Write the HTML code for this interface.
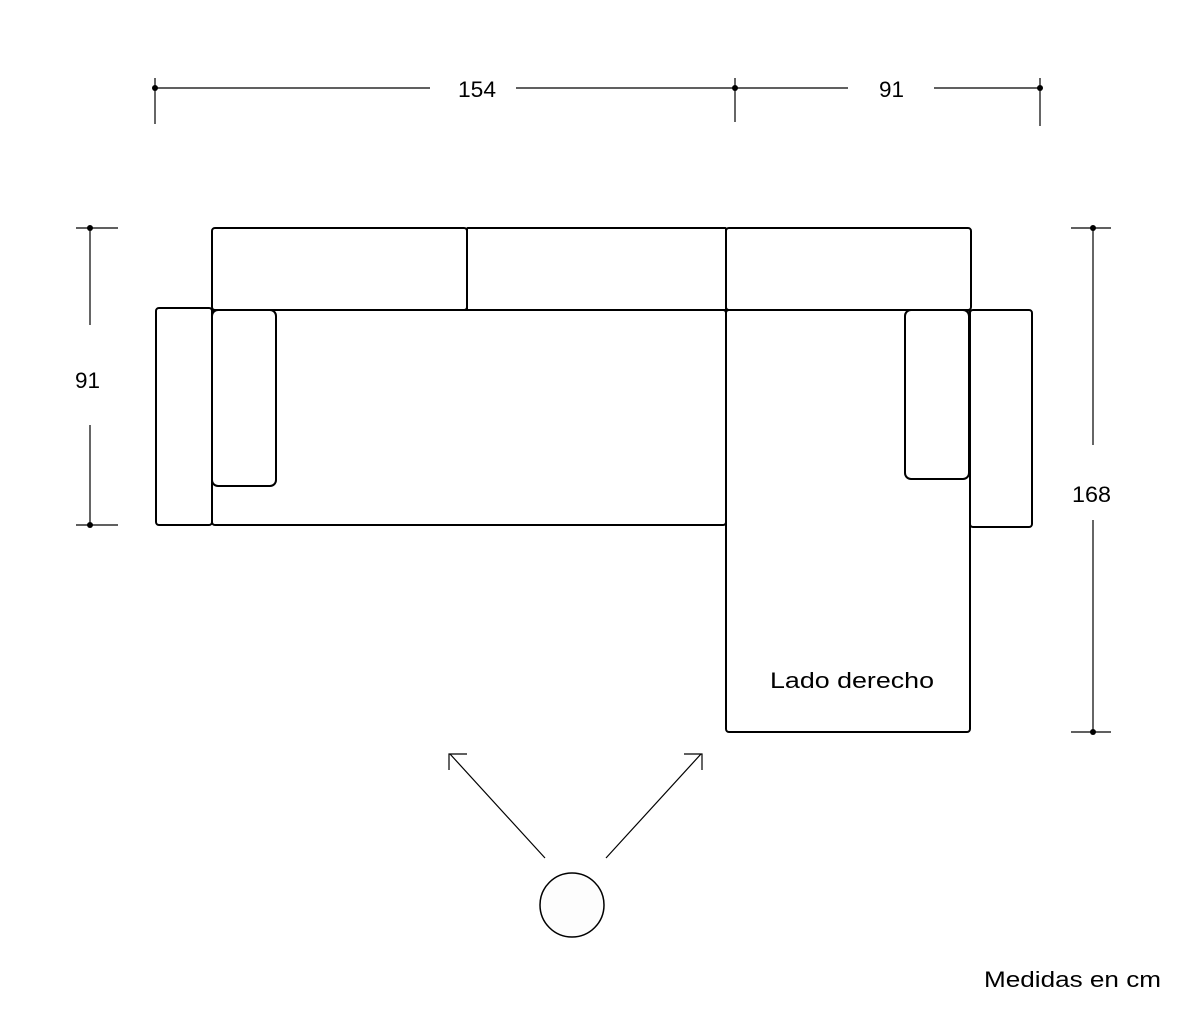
<!DOCTYPE html>
<html><head><style>body{margin:0;background:#fff}svg{display:block}</style></head><body>
<svg width="1200" height="1028" viewBox="0 0 1200 1028" xmlns="http://www.w3.org/2000/svg" font-family="Liberation Sans, sans-serif">
<g stroke="#000" stroke-width="2" fill="none" stroke-linejoin="round">
<rect x="212" y="228" width="255" height="82" rx="3"/>
<rect x="467" y="228" width="259" height="82" rx="1"/>
<rect x="726" y="228" width="245" height="82" rx="3"/>
<rect x="156" y="308" width="56" height="217" rx="3"/>
<rect x="212" y="310" width="514" height="215" rx="3"/>
<rect x="212" y="310" width="64" height="176" rx="6"/>
<rect x="726" y="310" width="244" height="422" rx="3"/>
<rect x="970" y="310" width="62" height="217" rx="3"/>
<rect x="905" y="310" width="64" height="169" rx="6"/>
</g>
<g stroke="#000" stroke-width="1.2" fill="none">
<line x1="155" y1="88" x2="430" y2="88"/><line x1="516" y1="88" x2="848" y2="88"/><line x1="934" y1="88" x2="1040" y2="88"/>
<line x1="155" y1="78" x2="155" y2="124"/><line x1="735" y1="78" x2="735" y2="122"/><line x1="1040" y1="78" x2="1040" y2="126"/>
<line x1="90" y1="228" x2="90" y2="325"/><line x1="90" y1="425" x2="90" y2="525"/>
<line x1="76" y1="228" x2="118" y2="228"/><line x1="76" y1="525" x2="118" y2="525"/>
<line x1="1093" y1="228" x2="1093" y2="445"/><line x1="1093" y1="520" x2="1093" y2="732"/>
<line x1="1071" y1="228" x2="1111" y2="228"/><line x1="1071" y1="732" x2="1111" y2="732"/>
<line x1="545" y1="858" x2="450" y2="754"/><polyline points="449,770 449,754 467,754"/>
<line x1="606" y1="858" x2="701" y2="754"/><polyline points="684,754 702,754 702,770"/>
</g>
<g fill="#000"><circle cx="155" cy="88" r="3"/><circle cx="735" cy="88" r="3"/><circle cx="1040" cy="88" r="3"/>
<circle cx="90" cy="228" r="3"/><circle cx="90" cy="525" r="3"/><circle cx="1093" cy="228" r="3"/><circle cx="1093" cy="732" r="3"/></g>
<circle cx="572" cy="905" r="32" fill="#fdfdfd" stroke="#000" stroke-width="1.5"/>
<g font-size="22" fill="#000">
<text x="458" y="97" textLength="38" lengthAdjust="spacingAndGlyphs">154</text>
<text x="879" y="97" textLength="25" lengthAdjust="spacingAndGlyphs">91</text>
<text x="75" y="388" textLength="25" lengthAdjust="spacingAndGlyphs">91</text>
<text x="1072" y="502" textLength="39" lengthAdjust="spacingAndGlyphs">168</text>
<text x="770" y="688" textLength="164" lengthAdjust="spacingAndGlyphs">Lado derecho</text>
<text x="984" y="987" textLength="177" lengthAdjust="spacingAndGlyphs">Medidas en cm</text>
</g>
</svg>
</body></html>
